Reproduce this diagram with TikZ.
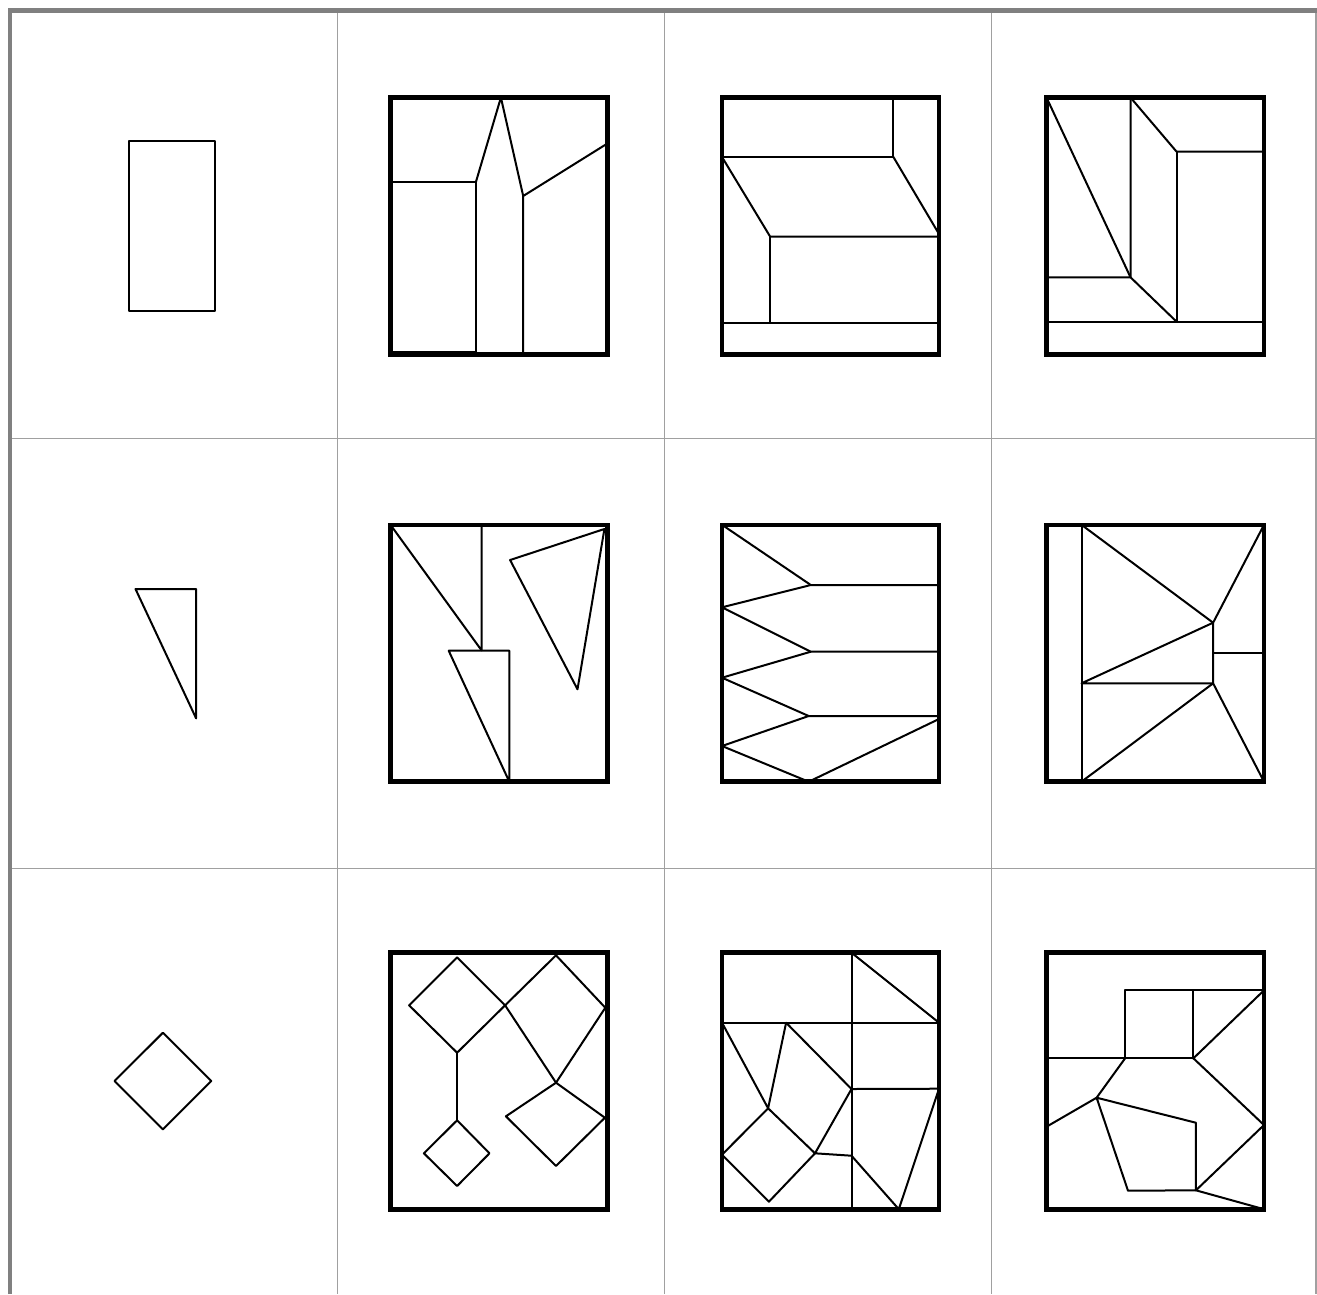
\documentclass[tikz,border=0pt]{standalone}
\definecolor{gridthick}{HTML}{808080}
\definecolor{gridthin}{HTML}{A0A0A0}
\begin{document}
\begin{tikzpicture}[x=1pt,y=-1pt,
  frame/.style={line width=4.6pt,line join=miter},
  ln/.style={line width=2pt,line join=round,line cap=round},
  thinrule/.style={draw=gridthin,line width=1.2pt},
  thickrule/.style={draw=gridthick,line width=4.6pt}]
\useasboundingbox (0,0) rectangle (1317,1294);
\fill[white] (0,0) rectangle (1317,1294);
% grid
\foreach \gx in {337.1,664.2,991.4,1316}{\draw[thinrule] (\gx,10) -- (\gx,1294);}
\draw[thinrule] (10,438.7) -- (1316,438.7);
\draw[thinrule] (10,868.3) -- (1316,868.3);
\draw[thickrule] (10,1294) -- (10,10.5) -- (1317,10.5);

% ---------- Row 1 ----------
\draw[ln] (128.8,141.2) rectangle (214.9,311.3);

\draw[ln] (390.5,181.7) -- (476,181.7) -- (476,354.2);
\draw[ln] (390.5,352) -- (476,352);
\draw[ln] (476,181.7) -- (500.9,97.5) -- (523.2,196) -- (523.2,354.2);
\draw[ln] (523.2,196) -- (607.7,143.3);
\draw[frame] (390.5,97.5) rectangle (607.7,354.2);

\draw[ln] (893.4,97.5) -- (893.4,157) -- (722,157);
\draw[ln] (722,157) -- (770.2,236.7) -- (939,236.7);
\draw[ln] (893.4,157) -- (939,234);
\draw[ln] (770.2,236.7) -- (770.2,322.7);
\draw[ln] (722,322.7) -- (939,322.7);
\draw[frame] (722,97.5) rectangle (939,354.2);

\draw[ln] (1046.5,97.5) -- (1130.5,277.3) -- (1046.5,277.3);
\draw[ln] (1130.5,97.5) -- (1130.5,277.3) -- (1176.6,321.7);
\draw[ln] (1130.5,97.5) -- (1176.6,151.7) -- (1264,151.7);
\draw[ln] (1176.6,151.7) -- (1176.6,321.7);
\draw[ln] (1046.5,321.7) -- (1264,321.7);
\draw[frame] (1046.5,97.5) rectangle (1264,354.2);

% ---------- Row 2 ----------
\draw[ln] (135.5,589) -- (196.1,589) -- (196.1,718.3) -- cycle;

\draw[ln] (390.5,524.8) -- (481.5,650.3) -- (481.5,524.8);
\draw[ln] (448.7,650.7) -- (509.3,650.7) -- (509.3,781.7) -- cycle;
\draw[ln] (510.1,560) -- (604.4,529) -- (577.5,689.3) -- cycle;
\draw[frame] (390.5,524.8) rectangle (607.7,781.7);

\draw[ln] (722,524.8) -- (810.8,585) -- (939,585);
\draw[ln] (810.8,585) -- (722,607.3) -- (810.8,651.7) -- (939,651.7);
\draw[ln] (810.8,651.7) -- (722,677.7) -- (808.7,716) -- (939,716);
\draw[ln] (808.7,716) -- (722,746) -- (808.7,781.7) -- (939,719);
\draw[frame] (722,524.8) rectangle (939,781.7);

\draw[ln] (1081.5,524.8) -- (1081.5,781.7);
\draw[ln] (1081.5,524.8) -- (1213.1,622.7) -- (1264,524.8);
\draw[ln] (1213.1,622.7) -- (1081.5,683.3) -- (1213.1,683.3) -- cycle;
\draw[ln] (1213.1,652.7) -- (1264,652.7);
\draw[ln] (1081.5,781.7) -- (1213.1,683.3) -- (1264,781.7);
\draw[frame] (1046.5,524.8) rectangle (1264,781.7);

% ---------- Row 3 ----------
\draw[ln] (162.9,1032.7) -- (211.3,1081) -- (162.9,1129.3) -- (114.5,1081) -- cycle;

\draw[ln] (457.1,957.3) -- (505.1,1005.3) -- (457.1,1052.7) -- (409.1,1005.3) -- cycle;
\draw[ln] (505.1,1005.3) -- (556,955.3) -- (605.3,1007.7) -- (556,1082.7) -- cycle;
\draw[ln] (457.1,1052.7) -- (457.1,1120.3);
\draw[ln] (457.1,1120.3) -- (489.5,1153.3) -- (457.1,1186) -- (423.9,1153.3) -- cycle;
\draw[ln] (556,1082.7) -- (604.9,1117.7) -- (556,1166) -- (505.9,1116.3) -- cycle;
\draw[frame] (390.5,952.7) rectangle (607.7,1209.2);

\draw[ln] (851.5,952.7) -- (851.5,1209.2);
\draw[ln] (722,1022.7) -- (939,1022.7);
\draw[ln] (851.5,952.7) -- (939,1022.7);
\draw[ln] (722,1022.7) -- (768.1,1108.3) -- (786.1,1022.7);
\draw[ln] (786.1,1022.7) -- (851.5,1089) -- (939,1088.7);
\draw[ln] (851.5,1089) -- (815,1153.3) -- (851.5,1155.7);
\draw[ln] (768.1,1108.3) -- (815,1153.3) -- (768.9,1201.7) -- (722,1154.7) -- cycle;
\draw[ln] (851.5,1155.7) -- (898.8,1209.2) -- (939,1088.7);
\draw[frame] (722,952.7) rectangle (939,1209.2);

\draw[ln] (1046.5,1058.3) -- (1193.4,1058.3);
\draw[ln] (1125.1,1058.3) -- (1125.1,990.3) -- (1264,990.3);
\draw[ln] (1193.4,990.3) -- (1193.4,1058.3);
\draw[ln] (1264,990.3) -- (1193.4,1058.3) -- (1264,1125) -- (1195.9,1190.3) -- (1264,1209.2);
\draw[ln] (1125.1,1058.3) -- (1096.6,1097.7) -- (1046.5,1126.7);
\draw[ln] (1096.6,1097.7) -- (1195.9,1122.7) -- (1195.9,1190.3) -- (1128,1190.7) -- cycle;
\draw[frame] (1046.5,952.7) rectangle (1264,1209.2);
\end{tikzpicture}
\end{document}
